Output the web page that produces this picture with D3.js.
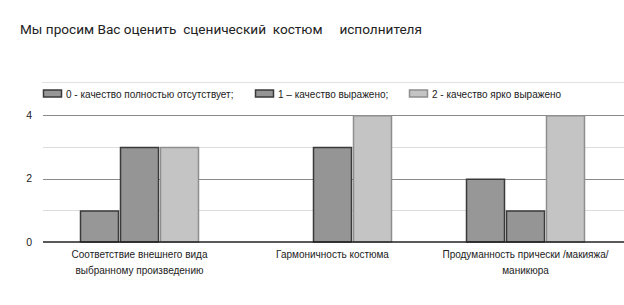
<!DOCTYPE html>
<html><head><meta charset="utf-8">
<script src="https://cdn.jsdelivr.net/npm/d3@7"></script>
<style>body{margin:0;background:#fff}svg{display:block}</style>
</head><body>
<script>
const title = "Мы просим Вас оценить  сценический  костюм     исполнителя";
const categories = [
  ["Соответствие внешнего вида", "выбранному произведению"],
  ["Гармоничность костюма"],
  ["Продуманность прически /макияжа/", "маникюра"]
];
const seriesNames = ["0 - качество полностью отсутствует;", "1 – качество выражено;", "2 - качество ярко выражено"];
const series0 = [1, 0, 2];
const series1 = [3, 3, 1];
const series2 = [3, 4, 4];
const yTicks = [0, 2, 4];
const yMinor = [1, 3];

const W = 624, H = 305;
const chartFont = "'Liberation Sans', Arial, sans-serif";
const svg = d3.select("body").append("svg").attr("width", W).attr("height", H)
  .style("font-family", chartFont);
svg.append("rect").attr("width", W).attr("height", H).attr("fill", "#fff");

svg.append("text").attr("x", 20).attr("y", 34).attr("font-size", 13.6).attr("fill", "#222")
  .style("font-family", "Roboto, sans-serif")
  .style("white-space", "pre").attr("xml:space", "preserve").text(title);

// top separator
svg.append("line").attr("x1", 42).attr("x2", W).attr("y1", 82.5).attr("y2", 82.5)
  .attr("stroke", "#e2e2e2").attr("stroke-width", 1);

const fills = ["#979797", "#959595", "#c4c4c4"];
const strokes = ["#3a3a3a", "#3a3a3a", "#8e8e8e"];

// legend
const legX = [43, 255, 409];
seriesNames.forEach((n, i) => {
  svg.append("rect").attr("x", legX[i] + 0.5).attr("y", 90).attr("width", 18).attr("height", 7)
    .attr("fill", fills[i]).attr("stroke", strokes[i]).attr("stroke-width", 1.5);
  svg.append("text").attr("x", legX[i] + 23).attr("y", 97.5).attr("font-size", 10).attr("fill", "#222").text(n);
});

const y = d3.scaleLinear().domain([0, 4]).range([242, 115]);
const x = d3.scaleBand().domain(d3.range(categories.length)).range([43, 622]).paddingInner(0).paddingOuter(0);
const x1 = d3.scaleBand().domain([0, 1, 2]).range([0, 120]).padding(0);

// minor gridlines
svg.selectAll(".minor").data(yMinor).enter().append("line")
  .attr("x1", 43).attr("x2", W).attr("y1", d => Math.round(y(d)) + 0.5).attr("y2", d => Math.round(y(d)) + 0.5)
  .attr("stroke", "#dcdcdc").attr("stroke-width", 1);

// y axis
const yAxis = d3.axisLeft(y).tickValues(yTicks).tickSize(0).tickPadding(0).tickFormat(d3.format("d"));
const ga = svg.append("g").attr("transform", "translate(32,0)").call(yAxis);
ga.select(".domain").remove();
ga.selectAll("text").attr("font-size", 10.5).attr("fill", "#222").style("font-family", chartFont);

svg.selectAll(".major").data(yTicks.filter(d => d !== 0)).enter().append("line")
  .attr("x1", 43).attr("x2", W).attr("y1", d => Math.round(y(d)) + 0.5).attr("y2", d => Math.round(y(d)) + 0.5)
  .attr("stroke", "#8a8a8a").attr("stroke-width", 1);

// bars
const all = [series0, series1, series2];
categories.forEach((c, ci) => {
  const cx = x(ci) + x.bandwidth() / 2 - 60;
  all.forEach((s, si) => {
    const v = s[ci];
    if (v <= 0) return;
    svg.append("rect")
      .attr("x", cx + x1(si) + 1).attr("width", x1.bandwidth() - 2)
      .attr("y", y(v) + 0.75).attr("height", y(0) - y(v) - 0.75)
      .attr("fill", fills[si]).attr("stroke", strokes[si]).attr("stroke-width", 1.5);
  });
});

// baseline
svg.append("line").attr("x1", 43).attr("x2", W).attr("y1", 242).attr("y2", 242)
  .attr("stroke", "#222").attr("stroke-width", 1.5);

// category labels
categories.forEach((c, ci) => {
  const t = svg.append("text").attr("text-anchor", "middle").attr("font-size", 10).attr("fill", "#222");
  c.forEach((line, li) => {
    t.append("tspan").attr("x", x(ci) + x.bandwidth() / 2).attr("y", 258 + li * 15.5).text(line);
  });
});
</script>
</body></html>
